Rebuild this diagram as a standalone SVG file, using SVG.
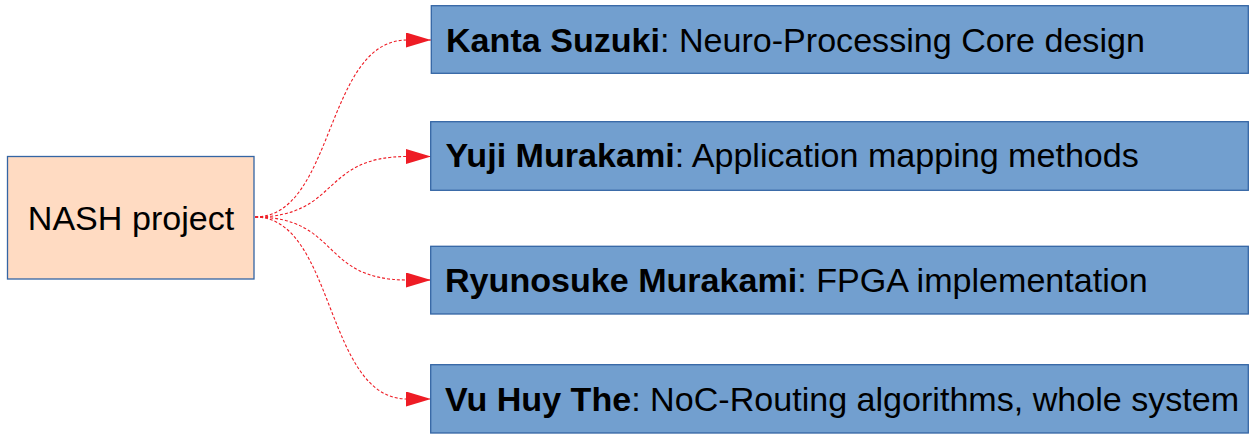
<svg xmlns="http://www.w3.org/2000/svg" width="1256" height="439" viewBox="0 0 1256 439">
<defs>
<style>
.box{fill:#729fcf;stroke:#3465a4;stroke-width:1.3}
.src{fill:#ffdbc2;stroke:#3465a4;stroke-width:1.3}
.t{font-family:"Liberation Sans",Arial,sans-serif;font-size:34.1px;fill:#000}
.b{font-weight:bold}
.c{fill:none;stroke:#ee1c25;stroke-width:1.1;stroke-dasharray:3 2}
</style>
<marker id="ah" markerWidth="26" markerHeight="16" refX="25" refY="7.5" orient="auto" markerUnits="userSpaceOnUse">
<path d="M0,0 L25,7.5 L0,15 Z" fill="#ee1c25"/>
</marker>
</defs>
<rect width="1256" height="439" fill="#fff"/>
<g id="connectors">
<path class="c" d="M255,217 C335,217 325,40 407,40 L431,40" marker-end="url(#ah)"/>
<path class="c" d="M255,217 C340,217 320,156.5 407,156.5 L431,156.5" marker-end="url(#ah)"/>
<path class="c" d="M255,217 C340,217 320,280 407,280 L431,280" marker-end="url(#ah)"/>
<path class="c" d="M255,217 C335,217 325,399 407,399 L431,399" marker-end="url(#ah)"/>
</g>
<g id="nash">
<rect class="src" x="7.5" y="156.5" width="246.5" height="122.5"/>
<text class="t" x="131" y="230" text-anchor="middle">NASH project</text>
</g>
<g id="kanta">
<rect class="box" x="431.3" y="5.7" width="817" height="67.6"/>
<text class="t" x="446" y="51.7"><tspan class="b">Kanta Suzuki</tspan>: Neuro-Processing Core design</text>
</g>
<g id="yuji">
<rect class="box" x="430.7" y="121.7" width="817.6" height="68.6"/>
<text class="t" x="445.5" y="166.7"><tspan class="b">Yuji Murakami</tspan>: Application mapping methods</text>
</g>
<g id="ryunosuke">
<rect class="box" x="430.7" y="246.3" width="817.6" height="67.7"/>
<text class="t" x="445" y="291.7"><tspan class="b">Ryunosuke Murakami</tspan>: FPGA implementation</text>
</g>
<g id="vu">
<rect class="box" x="430.7" y="364.7" width="817.6" height="68.3"/>
<text class="t" x="445" y="410.7"><tspan class="b">Vu Huy The</tspan>: NoC-Routing algorithms, whole system</text>
</g>
</svg>
